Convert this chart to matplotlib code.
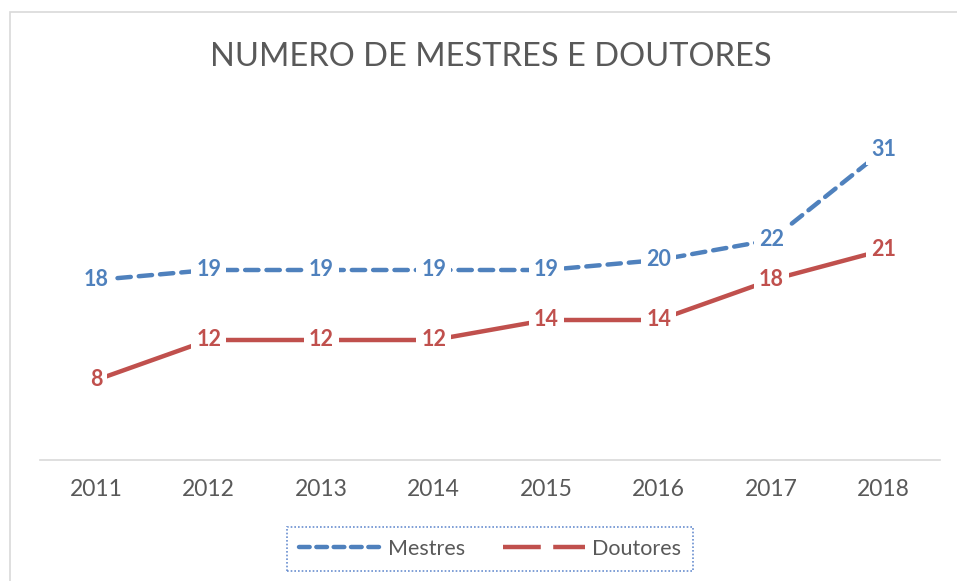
import matplotlib
matplotlib.use("Agg")
import matplotlib.pyplot as plt
from matplotlib.lines import Line2D
from matplotlib.patches import Rectangle

years = ["2011", "2012", "2013", "2014", "2015", "2016", "2017", "2018"]
mestres = [18, 19, 19, 19, 19, 20, 22, 31]
doutores = [8, 12, 12, 12, 14, 14, 18, 21]
title = "NUMERO DE MESTRES E DOUTORES"

BLUE = "#4F81BD"
RED = "#C0504D"
GRAY = "#595959"
FONT = "Lato"

W, H = 957, 581
fig = plt.figure(figsize=(W / 100, H / 100), dpi=100)
fig.patch.set_facecolor("white")

# chart border (extends past right/bottom edge)
fig.add_artist(Rectangle((10 / W, -0.1), 1.2, 1 - 12 / H + 0.1, transform=fig.transFigure,
                         fill=False, edgecolor="#D9D9D9", linewidth=1.2))

ax = fig.add_axes([40 / W, 1 - 460 / H, 900 / W, 350 / H])
x = list(range(len(years)))
ax.plot(x, mestres, color=BLUE, linewidth=3.2, dashes=(3.0, 1.8),
        dash_capstyle="round", zorder=2)
ax.plot(x, doutores, color=RED, linewidth=3.2, solid_capstyle="butt", zorder=2)

for xi, v in zip(x, mestres):
    ax.text(xi, v, str(v), ha="center", va="center", color=BLUE, fontsize=15.5,
            fontweight="bold", family=FONT, zorder=5,
            bbox=dict(facecolor="white", edgecolor="none", pad=3.5))
for xi, v in zip(x, doutores):
    ax.text(xi, v, str(v), ha="center", va="center", color=RED, fontsize=15.5,
            fontweight="bold", family=FONT, zorder=5,
            bbox=dict(facecolor="white", edgecolor="none", pad=3.5))

ax.set_xlim(-0.5, len(years) - 0.5)
ax.set_ylim(0, 35)
ax.set_xticks(x)
ax.set_xticklabels(years, fontsize=16.5, color=GRAY, family=FONT)
ax.tick_params(axis="x", length=0, pad=14)
ax.set_yticks([])
for s in ["top", "right", "left"]:
    ax.spines[s].set_visible(False)
ax.spines["bottom"].set_color("#D9D9D9")
ax.spines["bottom"].set_linewidth(1.2)

fig.text(491 / W, 1 - 57 / H, title, ha="center", va="center", fontsize=23.5,
         color=GRAY, family=FONT)

handles = [
    Line2D([0], [0], color=BLUE, linewidth=3.2, dashes=(2.4, 1.5), dash_capstyle="round"),
    Line2D([0], [0], color=RED, linewidth=3.2, dashes=(8.5, 2.8)),
]
leg = fig.legend(handles, ["Mestres", "Doutores"], loc="center",
                 bbox_to_anchor=(490 / W, 1 - 549 / H), ncol=2, frameon=True,
                 prop={"family": FONT, "size": 15.5}, labelcolor=GRAY,
                 handlelength=3.8, handletextpad=0.3, columnspacing=1.8,
                 borderpad=0.55, fancybox=False)
fr = leg.get_frame()
fr.set_edgecolor("#4472C4")
fr.set_linestyle((0, (1, 1.2)))
fr.set_linewidth(1.2)

fig.savefig("out.png", dpi=100, facecolor="white")
